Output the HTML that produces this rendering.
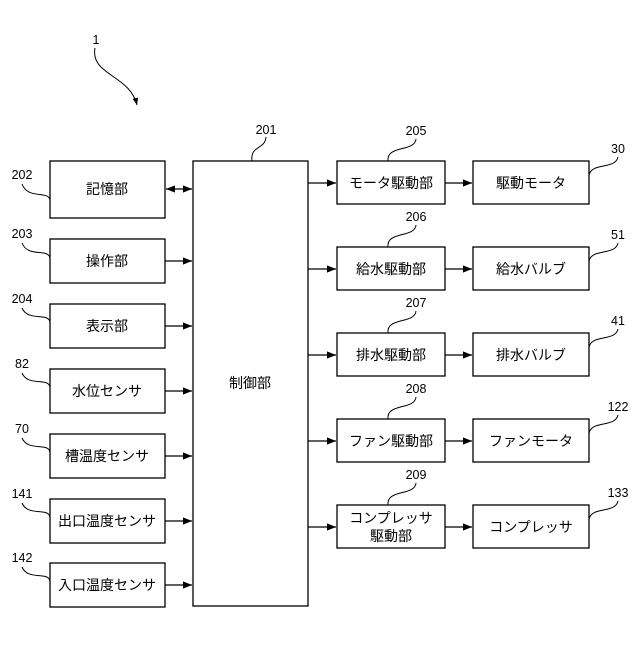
<!DOCTYPE html>
<html><head><meta charset="utf-8"><style>
body{margin:0;background:#fff}
svg text{font-family:"Liberation Sans","Noto Sans CJK JP",sans-serif;fill:#000}
</style></head><body>
<svg width="640" height="640" viewBox="0 0 640 640" xmlns="http://www.w3.org/2000/svg">
<defs><marker id="a" viewBox="0 0 10 10" refX="10" refY="5" markerWidth="7" markerHeight="7" orient="auto-start-reverse"><path d="M0,1 L10,5 L0,9z" fill="#000"/></marker></defs>
<g fill="none" stroke="#000" stroke-width="1.3">
<rect x="50" y="161" width="115" height="57"/>
<rect x="50" y="239" width="115" height="44"/>
<rect x="50" y="304" width="115" height="44"/>
<rect x="50" y="369" width="115" height="44"/>
<rect x="50" y="434" width="115" height="44"/>
<rect x="50" y="499" width="115" height="44"/>
<rect x="50" y="563" width="115" height="44"/>
<rect x="193" y="161" width="115" height="445"/>
<rect x="337" y="161" width="108" height="43"/>
<rect x="337" y="247" width="108" height="43"/>
<rect x="337" y="333" width="108" height="43"/>
<rect x="337" y="419" width="108" height="43"/>
<rect x="337" y="505" width="108" height="43"/>
<rect x="473" y="161" width="116" height="43"/>
<rect x="473" y="247" width="116" height="43"/>
<rect x="473" y="333" width="116" height="43"/>
<rect x="473" y="419" width="116" height="43"/>
<rect x="473" y="505" width="116" height="43"/>
<line x1="166" y1="189" x2="192" y2="189" marker-start="url(#a)" marker-end="url(#a)"/>
<line x1="165" y1="261" x2="192" y2="261" marker-end="url(#a)"/>
<line x1="165" y1="326" x2="192" y2="326" marker-end="url(#a)"/>
<line x1="165" y1="391" x2="192" y2="391" marker-end="url(#a)"/>
<line x1="165" y1="456" x2="192" y2="456" marker-end="url(#a)"/>
<line x1="165" y1="521" x2="192" y2="521" marker-end="url(#a)"/>
<line x1="165" y1="585" x2="192" y2="585" marker-end="url(#a)"/>
<line x1="308" y1="183" x2="336" y2="183" marker-end="url(#a)"/>
<line x1="308" y1="269" x2="336" y2="269" marker-end="url(#a)"/>
<line x1="308" y1="355" x2="336" y2="355" marker-end="url(#a)"/>
<line x1="308" y1="441" x2="336" y2="441" marker-end="url(#a)"/>
<line x1="308" y1="527" x2="336" y2="527" marker-end="url(#a)"/>
<line x1="445" y1="183" x2="472" y2="183" marker-end="url(#a)"/>
<line x1="445" y1="269" x2="472" y2="269" marker-end="url(#a)"/>
<line x1="445" y1="355" x2="472" y2="355" marker-end="url(#a)"/>
<line x1="445" y1="441" x2="472" y2="441" marker-end="url(#a)"/>
<line x1="445" y1="527" x2="472" y2="527" marker-end="url(#a)"/>
<g stroke-width="1">
<path d="M95,48 C90,75 130,75 137,105" marker-end="url(#a)"/>
<path d="M22,184 C28,200 48,190 50,200"/>
<path d="M22,243 C28,258 48,248 50,258"/>
<path d="M22,308 C28,322 48,312 50,322"/>
<path d="M22,373 C28,387 48,377 50,387"/>
<path d="M22,438 C28,452 48,442 50,452"/>
<path d="M22,503 C28,517 48,507 50,517"/>
<path d="M22,567 C28,581 48,571 50,581"/>
<path d="M252,161 C250,145 265,150 266,137"/>
<path d="M388,161 C386,145 415,152 416,139"/>
<path d="M388,247 C386,231 415,238 416,225"/>
<path d="M388,333 C386,317 415,324 416,311"/>
<path d="M388,419 C386,403 415,410 416,397"/>
<path d="M388,505 C386,489 415,496 416,483"/>
<path d="M589,175 C592,162 615,170 618,157"/>
<path d="M589,261 C592,248 615,256 618,243"/>
<path d="M589,347 C592,334 615,342 618,329"/>
<path d="M589,433 C592,420 615,428 618,415"/>
<path d="M589,519 C592,506 615,514 618,501"/>
</g></g>
<g font-size="14" text-anchor="middle">
<text x="107" y="194">記憶部</text>
<text x="107" y="266">操作部</text>
<text x="107" y="331">表示部</text>
<text x="107" y="396">水位センサ</text>
<text x="107" y="461">槽温度センサ</text>
<text x="107" y="526">出口温度センサ</text>
<text x="107" y="590">入口温度センサ</text>
<text x="250" y="388">制御部</text>
<text x="391" y="188">モータ駆動部</text>
<text x="391" y="274">給水駆動部</text>
<text x="391" y="360">排水駆動部</text>
<text x="391" y="446">ファン駆動部</text>
<text x="391" y="523">コンプレッサ</text>
<text x="391" y="541">駆動部</text>
<text x="531" y="188">駆動モータ</text>
<text x="531" y="274">給水バルブ</text>
<text x="531" y="360">排水バルブ</text>
<text x="531" y="446">ファンモータ</text>
<text x="531" y="532">コンプレッサ</text>
</g>
<g font-size="12.5" text-anchor="middle">
<text x="96" y="44">1</text>
<text x="22" y="179">202</text>
<text x="22" y="238">203</text>
<text x="22" y="303">204</text>
<text x="22" y="368">82</text>
<text x="22" y="433">70</text>
<text x="22" y="498">141</text>
<text x="22" y="562">142</text>
<text x="266" y="134">201</text>
<text x="416" y="135">205</text>
<text x="416" y="221">206</text>
<text x="416" y="307">207</text>
<text x="416" y="393">208</text>
<text x="416" y="479">209</text>
<text x="618" y="153">30</text>
<text x="618" y="239">51</text>
<text x="618" y="325">41</text>
<text x="618" y="411">122</text>
<text x="618" y="497">133</text>
</g>
</svg>
</body></html>
